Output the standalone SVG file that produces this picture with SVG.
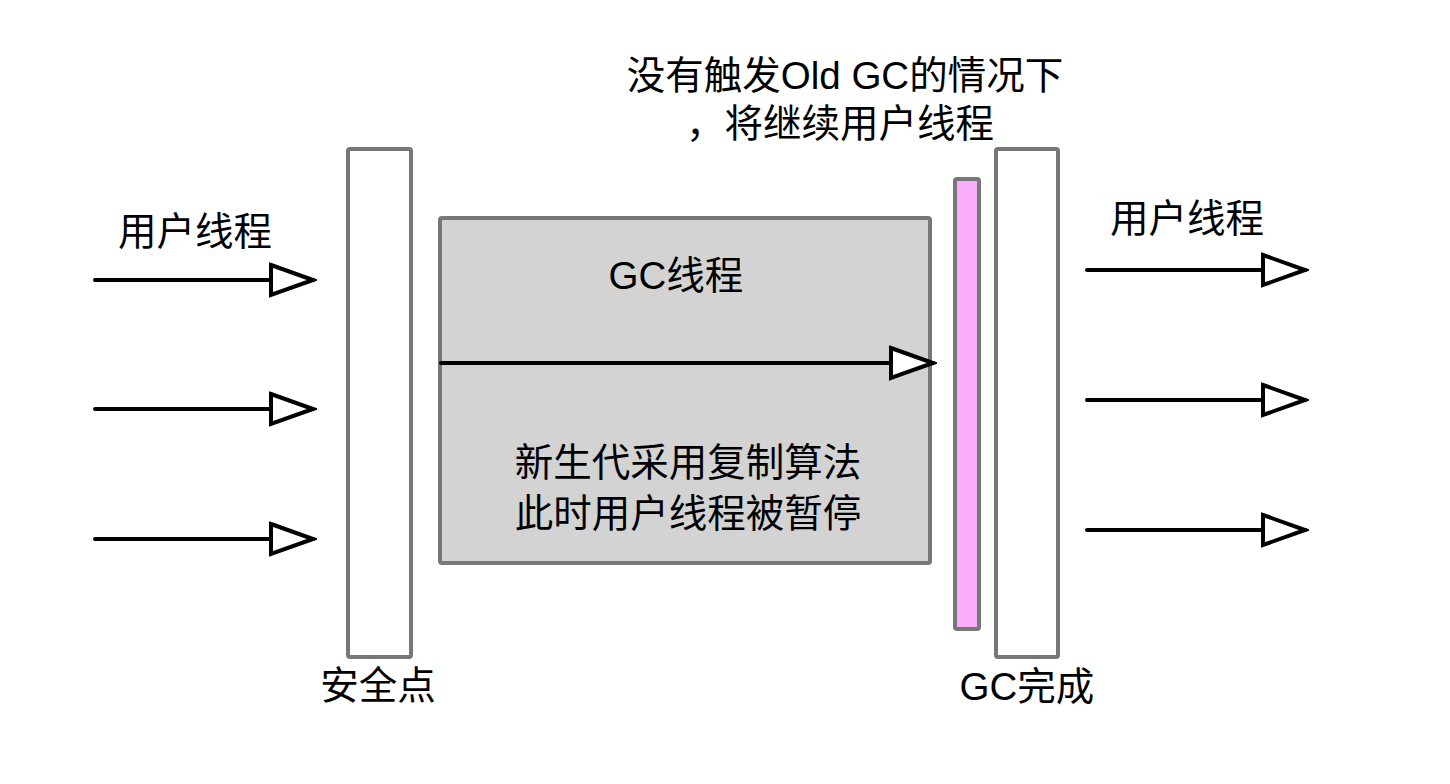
<svg xmlns="http://www.w3.org/2000/svg" width="1450" height="784" viewBox="0 0 1450 784">
<style>
.t{font-family:"Liberation Sans","Noto Sans CJK SC",sans-serif;font-size:38.5px;fill:#000;text-anchor:middle}
.bar{stroke:#777;stroke-width:4;fill:#fff}
.ln{stroke:#000;stroke-width:4;stroke-linecap:round;fill:none}
</style>
<defs>
<marker id="ah" markerUnits="userSpaceOnUse" viewBox="0 0 50 40" markerWidth="50" markerHeight="40" refX="46" refY="20" orient="auto">
<path d="M4,5 L46,20 L4,35 Z" fill="#fff" stroke="#000" stroke-width="4" stroke-linejoin="miter"/>
</marker>
</defs>
<rect width="1450" height="784" fill="#fff"/>
<g id="safepoint">
<rect class="bar" x="348" y="149" width="63" height="508" rx="2"/>
<text class="t" x="378" y="699">安全点</text>
</g>
<g id="gc-thread">
<rect x="440" y="218" width="490" height="345" rx="2" fill="#d3d3d3" stroke="#777" stroke-width="4"/>
<text class="t" x="676" y="289">GC线程</text>
<text class="t" x="688" y="476">新生代采用复制算法</text>
<text class="t" x="688" y="527">此时用户线程被暂停</text>
</g>
<g id="pink-bar">
<rect x="955" y="179" width="24" height="450" rx="2" fill="#faaefa" stroke="#777" stroke-width="4"/>
</g>
<g id="gc-done">
<rect class="bar" x="996" y="149" width="62" height="508" rx="2"/>
<text class="t" x="1027" y="700">GC完成</text>
</g>
<g id="note">
<text class="t" x="845" y="89">没有触发Old GC的情况下</text>
<text class="t" x="840" y="137">，将继续用户线程</text>
</g>
<g id="labels">
<text class="t" x="195" y="245">用户线程</text>
<text class="t" x="1187" y="232">用户线程</text>
</g>
<g id="connectors">
<line class="ln" x1="95" y1="280" x2="313" y2="280" marker-end="url(#ah)"/>
<line class="ln" x1="95" y1="409" x2="313" y2="409" marker-end="url(#ah)"/>
<line class="ln" x1="95" y1="539" x2="313" y2="539" marker-end="url(#ah)"/>
<line class="ln" x1="441" y1="363" x2="933" y2="363" marker-end="url(#ah)"/>
<line class="ln" x1="1087" y1="270" x2="1305" y2="270" marker-end="url(#ah)"/>
<line class="ln" x1="1087" y1="400" x2="1305" y2="400" marker-end="url(#ah)"/>
<line class="ln" x1="1087" y1="530" x2="1305" y2="530" marker-end="url(#ah)"/>
</g>
</svg>
